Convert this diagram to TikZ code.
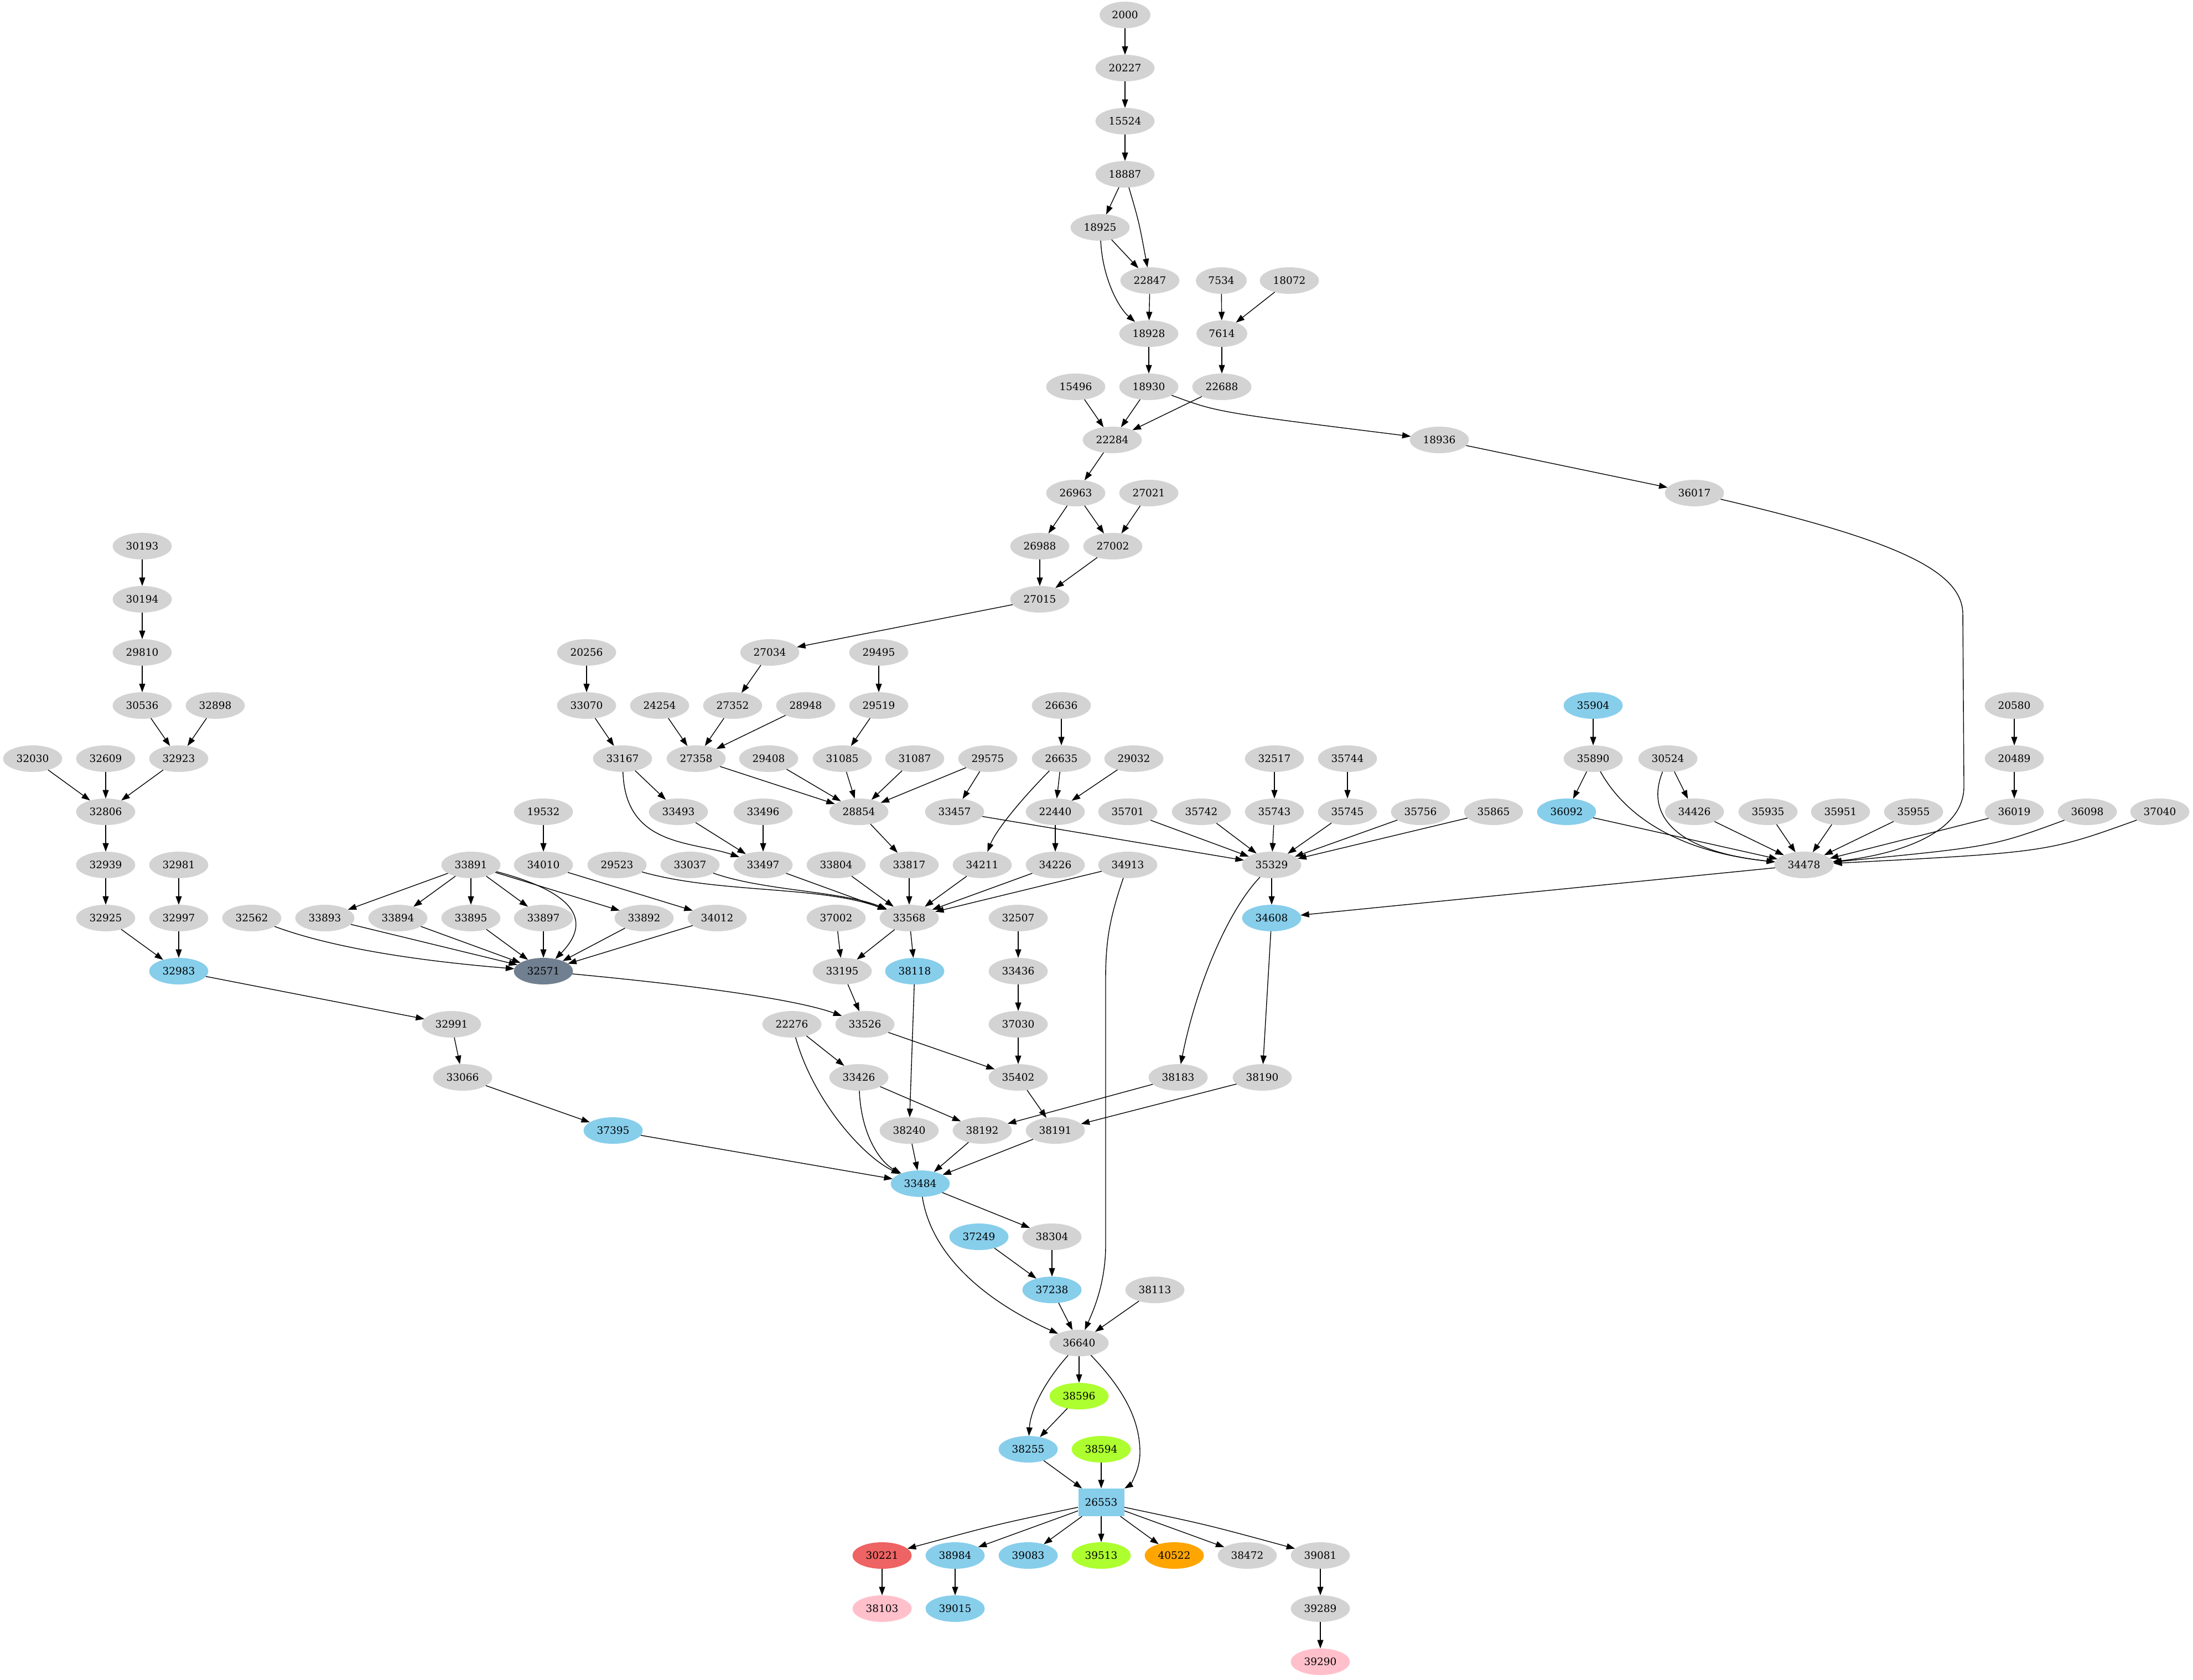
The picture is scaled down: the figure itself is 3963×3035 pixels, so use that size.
\documentclass[tikz,border=0pt]{standalone}
\usepackage{fontspec}
\setmainfont{DejaVu Serif}
\usetikzlibrary{arrows.meta,shapes.geometric}
\definecolor{cinzaclaro}{RGB}{211,211,211}
\definecolor{azulceu}{RGB}{135,206,235}
\definecolor{ardosia}{RGB}{112,128,144}
\definecolor{verdelima}{RGB}{173,255,47}
\definecolor{laranja}{RGB}{255,165,0}
\definecolor{vermelho}{RGB}{238,99,99}
\definecolor{rosa}{RGB}{255,192,203}

\begin{document}
\begin{tikzpicture}[x=0.4pt, y=-0.4pt,
  vertice/.style={ellipse, inner sep=0pt, outer sep=0pt, minimum width=42.8pt, minimum height=19.2pt,
    font=\fontsize{7.4}{8}\selectfont},
  curto/.style={minimum width=36.8pt},
  cinza/.style={vertice, fill=cinzaclaro},
  azul/.style={vertice, fill=azulceu},
  seta/.style={line width=0.55pt, -{Triangle[length=6.2pt,width=4.4pt]}}]
  \useasboundingbox (0,0) rectangle (3963,3035);
  % nós cinzentos
  \foreach \id/\x/\rk in {20227/2033/1, 15524/2033/2, 18887/2033/3, 18925/1988/4,
      22847/2078/5, 18072/2330/5, 18928/2076/6, 15496/1944/7, 18930/2076/7, 22688/2208/7,
      22284/2010/8, 18936/2601/8, 26963/1944/9, 27021/2076/9, 36017/3062/9,
      30193/257/10, 26988/1879/10, 27002/2011/10, 30194/257/11, 27015/1879/11,
      29810/257/12, 20256/1060/12, 27034/1391/12, 29495/1588/12,
      30536/257/13, 32898/389/13, 33070/1060/13, 24254/1192/13, 27352/1324/13, 28948/1456/13,
      29519/1588/13, 26636/1918/13, 20580/3640/13,
      32030/59/14, 32609/191/14, 32923/323/14, 33167/1125/14, 27358/1258/14, 29408/1389/14,
      31085/1522/14, 31087/1653/14, 29575/1785/14, 26635/1918/14, 29032/2049/14, 32517/2303/14,
      35744/2435/14, 35890/2879/14, 30524/3014/14, 20489/3640/14,
      32806/191/15, 19532/982/15, 33493/1226/15, 33496/1379/15, 28854/1552/15, 33457/1725/15,
      22440/1907/15, 35701/2038/15, 35742/2171/15, 35743/2303/15, 35745/2435/15, 35756/2567/15,
      35865/2699/15, 34426/3062/15, 35935/3195/15, 35951/3326/15, 35955/3458/15, 36019/3640/15,
      36098/3772/15, 37040/3903/15,
      32939/191/16, 32981/323/16, 33891/851/16, 34010/982/16, 29523/1115/16, 33037/1247/16,
      33497/1379/16, 33804/1511/16, 33817/1643/16, 34211/1775/16, 34226/1907/16, 34913/2038/16,
      35329/2298/16, 34478/3260/16,
      32925/191/17, 32997/323/17, 32562/455/17, 33893/587/17, 33894/719/17, 33895/851/17,
      33897/982/17, 33892/1164/17, 34012/1296/17, 37002/1511/17, 33568/1643/17, 32507/1840/17,
      33195/1522/18, 33436/1840/18,
      32991/816/19, 22276/1431/19, 33526/1563/19, 37030/1840/19,
      33066/836/20, 33426/1552/20, 35402/1840/20, 38183/2129/20, 38190/2281/20,
      38240/1643/21, 38192/1775/21, 38191/1907/21,
      38304/1901/23, 38113/2087/24, 36640/1950/25,
      38472/2254/29, 39081/2386/29, 39289/2386/30}
    \node[cinza] (n\id) at (\x,{27+96*\rk}) {\id};
  \node[cinza, curto] (n2000) at (2033,27) {2000};
  \node[cinza, curto] (n7534) at (2207,507) {7534};
  \node[cinza, curto] (n7614) at (2208,603) {7614};
  % nós azuis
  \foreach \id/\x/\rk in {35904/2879/13, 36092/2831/15, 34608/2298/17, 32983/323/18,
      38118/1653/18, 37395/1108/21, 33484/1663/22, 37249/1769/23, 37238/1901/24,
      38255/1858/27, 38984/1726/29, 39083/1858/29, 39015/1726/30}
    \node[azul] (n\id) at (\x,{27+96*\rk}) {\id};
  \node[rectangle, fill=azulceu, inner sep=0pt, minimum width=33.2pt, minimum height=19.8pt,
    font=\fontsize{7.4}{8}\selectfont] (n26553) at (1990,2715) {26553};
  % outras cores
  \node[vertice, fill=ardosia] (n32571) at (982,1755) {32571};
  \foreach \id/\x/\rk in {38596/1950/26, 38594/1990/27, 39513/1990/29}
    \node[vertice, fill=verdelima] (n\id) at (\x,{27+96*\rk}) {\id};
  \node[vertice, fill=laranja] (n40522) at (2122,2811) {40522};
  \node[vertice, fill=vermelho] (n30221) at (1594,2811) {30221};
  \node[vertice, fill=rosa] (n38103) at (1594,2907) {38103};
  \node[vertice, fill=rosa] (n39290) at (2386,3003) {39290};
  % arestas retas
  \foreach \a/\b in {2000/20227, 20227/15524, 15524/18887, 18887/18925, 18925/22847, 22847/18928,
      7534/7614, 18072/7614, 18928/18930, 7614/22688, 15496/22284, 18930/22284, 22688/22284,
      18936/36017, 22284/26963, 26963/26988, 26963/27002, 27021/27002, 26988/27015, 27002/27015,
      27015/27034,
      30193/30194, 30194/29810, 29810/30536, 30536/32923, 32898/32923, 32030/32806, 32609/32806,
      32923/32806, 32806/32939, 32939/32925, 32981/32997, 32925/32983, 32997/32983, 32983/32991,
      32991/33066, 33066/37395, 37395/33484,
      33891/33893, 33891/33894, 33891/33895, 33891/33897, 33891/33892, 19532/34010, 34010/34012,
      33893/32571, 33894/32571, 33895/32571, 33897/32571, 33892/32571, 34012/32571,
      20256/33070, 33070/33167, 33167/33493, 24254/27358, 27352/27358, 28948/27358, 27034/27352,
      29495/29519, 29519/31085, 27358/28854, 29408/28854, 31085/28854, 31087/28854, 29575/28854,
      29575/33457, 26636/26635, 26635/22440, 29032/22440, 22440/34226, 33493/33497, 33496/33497,
      28854/33817, 33457/35329,
      33497/33568, 33804/33568, 33817/33568, 34211/33568, 34226/33568, 34913/33568,
      33568/33195, 33568/38118, 37002/33195, 33195/33526, 32507/33436, 33436/37030, 37030/35402,
      33526/35402, 38118/38240,
      22276/33426, 33426/38192, 38240/33484, 38192/33484, 38191/33484, 35402/38191, 38183/38192,
      38190/38191, 34608/38190, 35329/34608, 34478/34608,
      35701/35329, 35742/35329, 35743/35329, 35745/35329, 35756/35329, 35865/35329, 32517/35743,
      35744/35745,
      35904/35890, 35890/36092, 30524/34426, 36092/34478, 34426/34478, 35935/34478, 35951/34478,
      35955/34478, 20580/20489, 20489/36019, 36019/34478,
      33484/38304, 37249/37238, 38304/37238, 37238/36640, 38113/36640, 36640/38596, 38596/38255,
      38255/26553, 38594/26553,
      26553/38984, 26553/39083, 26553/39513, 26553/40522, 26553/38472, 30221/38103, 38984/39015,
      39081/39289, 39289/39290}
    \draw[seta] (n\a) -- (n\b);
  % arestas curvas
  \draw[seta] (n18887) .. controls (2058,400) .. (n22847);
  \draw[seta] (n18925) .. controls (1992,500) and (2020,555) .. (n18928);
  \draw[seta] (n18930) .. controls (2200,745) .. (n18936);
  \draw[seta] (n36017) .. controls (3420,975) and (3547,1030) .. (3547,1110) -- (3549,1420)
    .. controls (3550,1510) and (3420,1545) .. (n34478);
  \draw[seta] (n33167) .. controls (1130,1530) and (1250,1520) .. (n33497);
  \draw[seta] (n26635) .. controls (1845,1445) and (1800,1500) .. (n34211);
  \draw[seta] (n33891) .. controls (1030,1610) and (1075,1660) .. (n32571);
  \draw[seta] (n32562) .. controls (620,1720) and (800,1740) .. (n32571);
  \draw[seta] (n29523) .. controls (1300,1615) and (1480,1600) .. (n33568);
  \draw[seta] (n33037) .. controls (1380,1610) and (1520,1610) .. (n33568);
  \draw[seta] (n34913) .. controls (2005,1660) and (1998,1700) .. (1998,1770) -- (1998,2250)
    .. controls (1998,2320) and (1975,2370) .. (n36640);
  \draw[seta] (n35329) .. controls (2215,1650) and (2160,1790) .. (n38183);
  \draw[seta] (n35890) .. controls (2940,1480) and (3040,1540) .. (n34478);
  \draw[seta] (n30524) .. controls (2970,1480) and (3040,1540) .. (n34478);
  \draw[seta] (n36098) .. controls (3600,1530) .. (n34478);
  \draw[seta] (n37040) .. controls (3700,1540) .. (n34478);
  \draw[seta] (n32571) .. controls (1300,1785) and (1450,1810) .. (n33526);
  \draw[seta] (n22276) .. controls (1470,1990) and (1560,2090) .. (n33484);
  \draw[seta] (n33426) .. controls (1556,2050) and (1590,2100) .. (n33484);
  \draw[seta] (n33484) .. controls (1685,2280) and (1800,2360) .. (n36640);
  \draw[seta] (n36640) .. controls (1885,2500) and (1862,2550) .. (n38255);
  \draw[seta] (n36640) .. controls (2035,2515) and (2060,2570) .. (2060,2625)
    .. controls (2060,2660) and (2040,2685) .. (n26553);
  \draw[seta] (n26553) .. controls (1800,2755) .. (n30221);
  \draw[seta] (n26553) .. controls (2180,2755) .. (n39081);
\end{tikzpicture}
\end{document}
